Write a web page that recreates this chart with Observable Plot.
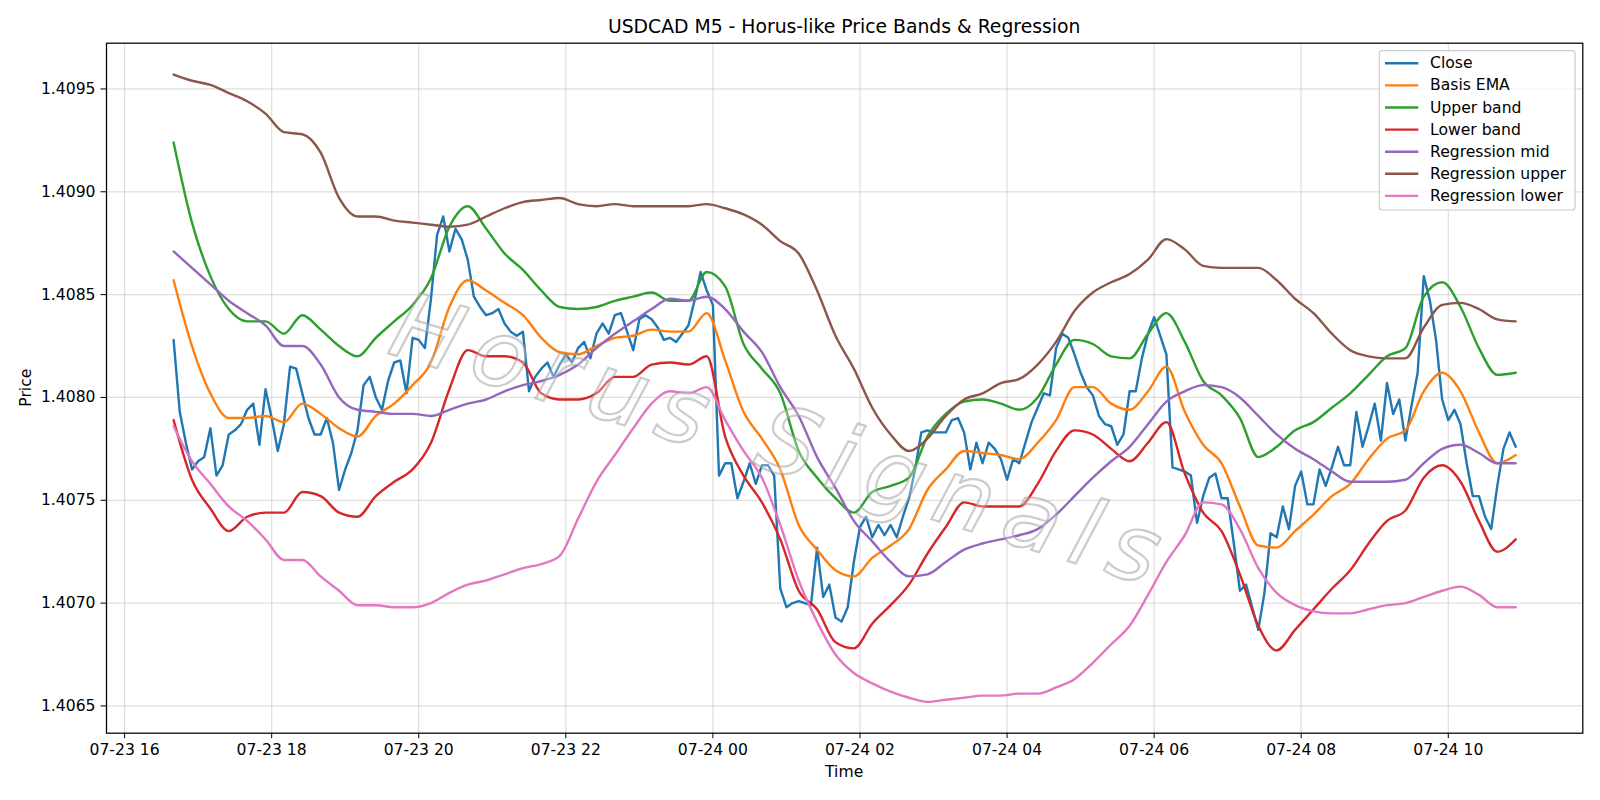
<!DOCTYPE html>
<html>
<head>
<meta charset="utf-8">
<script src="https://cdn.jsdelivr.net/npm/d3@7"></script>
<script src="https://cdn.jsdelivr.net/npm/@observablehq/plot@0.6"></script>
<style>
  html, body { margin: 0; padding: 0; background: white; }
  #chart { width: 1600px; height: 800px; }
</style>
</head>
<body>
<div id="chart"></div>
<script>
// ---- Data (USDCAD M5, 2025-07-23 16:40 UTC onward) ----
const startTime = "2025-07-23T16:40:00Z";
const closeStepMinutes = 5;     // Close: every bar
const bandStepMinutes = 15;     // bands/regression read every 3rd bar

const closeVals = [
1.40828,1.40793,1.40778,1.40765,1.40769,1.40771,1.40785,1.40762,1.40767,1.40782,
1.40784,1.40787,1.40794,1.40797,1.40777,1.40804,1.40790,1.40774,1.40787,1.40815,
1.40814,1.40802,1.40790,1.40782,1.40782,1.40790,1.40778,1.40755,1.40765,1.40773,
1.40784,1.40806,1.40810,1.40800,1.40794,1.40808,1.40817,1.40818,1.40802,1.40829,
1.40828,1.40824,1.40848,1.40879,1.40888,1.40871,1.40882,1.40877,1.40867,1.40849,
1.40844,1.40840,1.40841,1.40843,1.40836,1.40832,1.40830,1.40832,1.40803,1.40810,
1.40814,1.40817,1.40810,1.40816,1.40821,1.40817,1.40824,1.40827,1.40819,1.40831,
1.40836,1.40831,1.40840,1.40841,1.40832,1.40823,1.40838,1.40840,1.40838,1.40834,
1.40828,1.40829,1.40827,1.40831,1.40835,1.40847,1.40861,1.40852,1.40845,1.40762,
1.40768,1.40768,1.40751,1.40759,1.40768,1.40758,1.40767,1.40767,1.40762,1.40707,
1.40698,1.40700,1.40701,1.40700,1.40699,1.40727,1.40703,1.40709,1.40693,1.40691,
1.40698,1.40720,1.40737,1.40742,1.40732,1.40738,1.40733,1.40738,1.40732,1.40742,
1.40751,1.40765,1.40783,1.40784,1.40783,1.40783,1.40783,1.40789,1.40790,1.40783,
1.40765,1.40778,1.40768,1.40778,1.40775,1.40770,1.40760,1.40770,1.40768,1.40778,
1.40788,1.40795,1.40802,1.40801,1.40824,1.40831,1.40829,1.40821,1.40812,1.40805,
1.40801,1.40791,1.40787,1.40786,1.40777,1.40782,1.40803,1.40803,1.40819,1.40831,
1.40839,1.40830,1.40821,1.40766,1.40765,1.40764,1.40762,1.40739,1.40752,1.40761,
1.40763,1.40751,1.40751,1.40729,1.40706,1.40709,1.40698,1.40687,1.40705,1.40734,
1.40732,1.40747,1.40736,1.40757,1.40764,1.40748,1.40748,1.40765,1.40757,1.40766,
1.40776,1.40767,1.40767,1.40793,1.40776,1.40786,1.40797,1.40779,1.40807,1.40792,
1.40799,1.40779,1.40796,1.40812,1.40859,1.40847,1.40828,1.40799,1.40789,1.40794,
1.40787,1.40768,1.40752,1.40752,1.40742,1.40736,1.40757,1.40775,1.40783,1.40776
];

const basisEmaVals = [
1.40857,1.40825,1.40802,1.40790,1.40790,1.40791,1.40788,1.40797,1.40792,1.40785,
1.40781,1.40791,1.40797,1.40806,1.40817,1.40844,1.40857,1.40852,1.40846,1.40840,1.40829,1.40822,1.40821,1.40825,
1.40829,1.40830,1.40833,1.40832,1.40832,1.40841,1.40818,1.40793,1.40780,1.40765,1.40738,1.40726,1.40716,
1.40713,1.40722,1.40728,1.40736,1.40755,1.40765,1.40774,1.40773,1.40772,1.40770,1.40778,1.40789,1.40805,1.40805,
1.40797,1.40794,1.40803,1.40815,1.40793,1.40777,1.40768,1.40747,1.40728,1.40727,1.40735,1.40743,1.40752,1.40758,
1.40770,1.40780,1.40784,1.40803,1.40812,1.40803,1.40783,1.40768,1.40772
];

const upperBandVals = [
1.40924,1.40885,1.40859,1.40843,1.40837,1.40837,1.40831,1.40840,1.40833,1.40825,
1.40820,1.40829,1.40837,1.40845,1.40858,1.40883,1.40893,1.40882,1.40870,1.40862,1.40852,1.40844,1.40843,1.40844,
1.40847,1.40849,1.40851,1.40847,1.40847,1.40861,1.40854,1.40826,1.40814,1.40802,1.40774,1.40761,1.40751,
1.40744,1.40754,1.40757,1.40761,1.40781,1.40792,1.40798,1.40799,1.40797,1.40794,1.40800,1.40816,1.40828,1.40826,
1.40820,1.40819,1.40831,1.40841,1.40827,1.40808,1.40801,1.40790,1.40771,1.40776,1.40784,1.40788,1.40795,1.40802,
1.40811,1.40820,1.40824,1.40849,1.40856,1.40844,1.40824,1.40811,1.40812
];

const lowerBandVals = [
1.40789,1.40760,1.40746,1.40735,1.40742,1.40744,1.40744,1.40754,1.40752,1.40744,
1.40742,1.40752,1.40759,1.40765,1.40778,1.40804,1.40823,1.40820,1.40820,1.40817,1.40802,1.40799,1.40799,1.40802,
1.40810,1.40810,1.40816,1.40817,1.40816,1.40820,1.40781,1.40762,1.40749,1.40731,1.40706,1.40697,1.40681,
1.40678,1.40690,1.40699,1.40709,1.40724,1.40737,1.40749,1.40747,1.40747,1.40747,1.40758,1.40774,1.40784,1.40782,
1.40775,1.40769,1.40778,1.40788,1.40763,1.40744,1.40735,1.40714,1.40689,1.40677,1.40687,1.40697,1.40707,1.40716,
1.40729,1.40740,1.40745,1.40761,1.40767,1.40759,1.40740,1.40725,1.40731
];

const regMidVals = [
1.40871,1.40863,1.40855,1.40847,1.40841,1.40835,1.40825,1.40825,1.40816,1.40800,
1.40794,1.40793,1.40792,1.40792,1.40791,1.40794,1.40797,1.40799,1.40803,1.40806,1.40808,1.40811,1.40816,1.40824,
1.40831,1.40837,1.40843,1.40848,1.40847,1.40849,1.40843,1.40832,1.40822,1.40805,1.40791,1.40771,1.40756,
1.40740,1.40730,1.40720,1.40713,1.40714,1.40720,1.40726,1.40729,1.40731,1.40733,1.40736,1.40743,1.40752,1.40761,
1.40769,1.40776,1.40787,1.40798,1.40803,1.40806,1.40805,1.40800,1.40791,1.40782,1.40775,1.40770,1.40764,1.40759,
1.40759,1.40759,1.40760,1.40768,1.40775,1.40777,1.40773,1.40768,1.40768
];

const regUpperVals = [
1.40957,1.40954,1.40952,1.40948,1.40944,1.40938,1.40929,1.40928,1.40919,1.40897,
1.40888,1.40888,1.40886,1.40885,1.40884,1.40883,1.40884,1.40888,1.40892,1.40895,1.40896,1.40897,1.40894,1.40893,
1.40894,1.40893,1.40893,1.40893,1.40893,1.40894,1.40892,1.40889,1.40884,1.40876,1.40870,1.40852,1.40830,
1.40814,1.40795,1.40782,1.40774,1.40780,1.40791,1.40799,1.40802,1.40807,1.40809,1.40816,1.40827,1.40842,1.40851,
1.40856,1.40860,1.40867,1.40877,1.40872,1.40864,1.40863,1.40863,1.40863,1.40857,1.40848,1.40841,1.40831,1.40823,
1.40820,1.40819,1.40819,1.40834,1.40845,1.40846,1.40843,1.40838,1.40837
];

const regLowerVals = [
1.40786,1.40769,1.40758,1.40747,1.40740,1.40731,1.40721,1.40721,1.40713,1.40706,
1.40699,1.40699,1.40698,1.40698,1.40700,1.40705,1.40709,1.40711,1.40714,1.40717,1.40719,1.40723,1.40741,1.40759,
1.40772,1.40785,1.40797,1.40803,1.40802,1.40805,1.40789,1.40774,1.40761,1.40738,1.40711,1.40691,1.40675,
1.40666,1.40661,1.40657,1.40654,1.40652,1.40653,1.40654,1.40655,1.40655,1.40656,1.40656,1.40659,1.40663,1.40671,
1.40680,1.40689,1.40704,1.40720,1.40733,1.40749,1.40748,1.40736,1.40717,1.40705,1.40699,1.40696,1.40695,1.40695,
1.40697,1.40699,1.40700,1.40703,1.40706,1.40708,1.40704,1.40698,1.40698
];

const seriesNames = ["Close","Basis EMA","Upper band","Lower band","Regression mid","Regression upper","Regression lower"];
const seriesColors = ["#1f77b4","#ff7f0e","#2ca02c","#d62728","#9467bd","#8c564b","#e377c2"];

const xTickLabels = ["07-23 16","07-23 18","07-23 20","07-23 22","07-24 00","07-24 02","07-24 04","07-24 06","07-24 08","07-24 10"];
const yTickValues = [1.4065,1.4070,1.4075,1.4080,1.4085,1.4090,1.4095];

const titleText = "USDCAD M5 - Horus-like Price Bands & Regression";
const xLabelText = "Time";
const yLabelText = "Price";
const watermarkText = "Horus Signals";

// ---- Build tables ----
const t0 = new Date(startTime).getTime();
const toRows = (vals, stepMin) => vals.map((v, i) => ({ t: new Date(t0 + i * stepMin * 60000), v }));
const allSeries = [
  toRows(closeVals, closeStepMinutes),
  toRows(basisEmaVals, bandStepMinutes),
  toRows(upperBandVals, bandStepMinutes),
  toRows(lowerBandVals, bandStepMinutes),
  toRows(regMidVals, bandStepMinutes),
  toRows(regUpperVals, bandStepMinutes),
  toRows(regLowerVals, bandStepMinutes)
];

const parseTick = d3.utcParse("%Y-%m-%d %H");
const xTicks = xTickLabels.map(s => parseTick("2025-" + s));

// matplotlib-like 5% margins
const allT = allSeries.flat().map(d => +d.t);
const allV = allSeries.flat().map(d => d.v);
const [tmin, tmax] = d3.extent(allT);
const [vmin, vmax] = d3.extent(allV);
const tp = (tmax - tmin) * 0.05, vp = (vmax - vmin) * 0.05;
const xDomain = [new Date(tmin - tp), new Date(tmax + tp)];
const yDomain = [vmin - vp, vmax + vp];

const W = 1600, H = 800;
const mL = 106, mR = 17.7, mT = 42.7, mB = 67.3;
const FONT = "'DejaVu Sans', Arial, sans-serif";

const chart = Plot.plot({
  width: W, height: H,
  marginLeft: mL, marginRight: mR, marginTop: mT, marginBottom: mB,
  style: { fontFamily: FONT, fontSize: "15.6px", background: "white", color: "black", overflow: "visible" },
  x: { type: "utc", domain: xDomain },
  y: { domain: yDomain },
  marks: [
    Plot.gridX(xTicks, { stroke: "#b0b0b0", strokeOpacity: 0.4, strokeWidth: 1.2 }),
    Plot.gridY(yTickValues, { stroke: "#b0b0b0", strokeOpacity: 0.4, strokeWidth: 1.2 }),
    ...allSeries.map((rows, k) => Plot.line(rows, {
      x: "t", y: "v", stroke: seriesColors[k], strokeWidth: 2.4,
      curve: k === 0 ? "linear" : "monotone-x"
    })),
    Plot.frame({ stroke: "black", strokeWidth: 1.25 }),
    Plot.axisX(xTicks, { tickFormat: d3.utcFormat("%m-%d %H"), tickSize: 5.5, tickPadding: 5.5, label: null, fontSize: 15.6 }),
    Plot.axisY(yTickValues, { tickFormat: d => d.toFixed(4), tickSize: 5.5, tickPadding: 5.5, label: null, fontSize: 15.6 })
  ]
});

document.getElementById("chart").appendChild(chart);
const svg = d3.select(chart);

// Watermark
svg.append("text")
  .attr("transform", "translate(783,441) rotate(17)")
  .attr("text-anchor", "middle")
  .attr("dominant-baseline", "central")
  .style("font-family", FONT)
  .style("font-style", "italic")
  .style("font-size", "92px")
  .style("letter-spacing", "14px")
  .attr("fill", "#ffffff").attr("fill-opacity", 0.3)
  .attr("stroke", "#9a9a9a").attr("stroke-opacity", 0.5).attr("stroke-width", 2.2)
  .text(watermarkText);

// Title and axis labels
svg.append("text").attr("x", (mL + W - mR) / 2).attr("y", 33)
  .attr("text-anchor", "middle").style("font-family", FONT).style("font-size", "18.8px")
  .attr("fill", "black").text(titleText);
svg.append("text").attr("x", (mL + W - mR) / 2).attr("y", 777)
  .attr("text-anchor", "middle").style("font-family", FONT).style("font-size", "15.6px")
  .attr("fill", "black").text(xLabelText);
svg.append("text").attr("transform", `translate(31,${(mT + H - mB) / 2}) rotate(-90)`)
  .attr("text-anchor", "middle").style("font-family", FONT).style("font-size", "15.6px")
  .attr("fill", "black").text(yLabelText);

// Legend
const lg = svg.append("g").attr("text-anchor", "start");
lg.append("rect").attr("x", 1379.3).attr("y", 50.7).attr("width", 195.7).attr("height", 159.3)
  .attr("rx", 3).attr("fill", "white").attr("fill-opacity", 0.8)
  .attr("stroke", "#cccccc").attr("stroke-width", 1.2);
seriesNames.forEach((name, k) => {
  const cy = 63.3 + k * 22.1;
  lg.append("line").attr("x1", 1385).attr("x2", 1418.3).attr("y1", cy).attr("y2", cy)
    .attr("stroke", seriesColors[k]).attr("stroke-width", 2.4);
  lg.append("text").attr("x", 1430).attr("y", cy).attr("dominant-baseline", "central")
    .attr("text-anchor", "start")
    .style("font-family", FONT).style("font-size", "15.6px").attr("fill", "black").text(name);
});
</script>
</body>
</html>
